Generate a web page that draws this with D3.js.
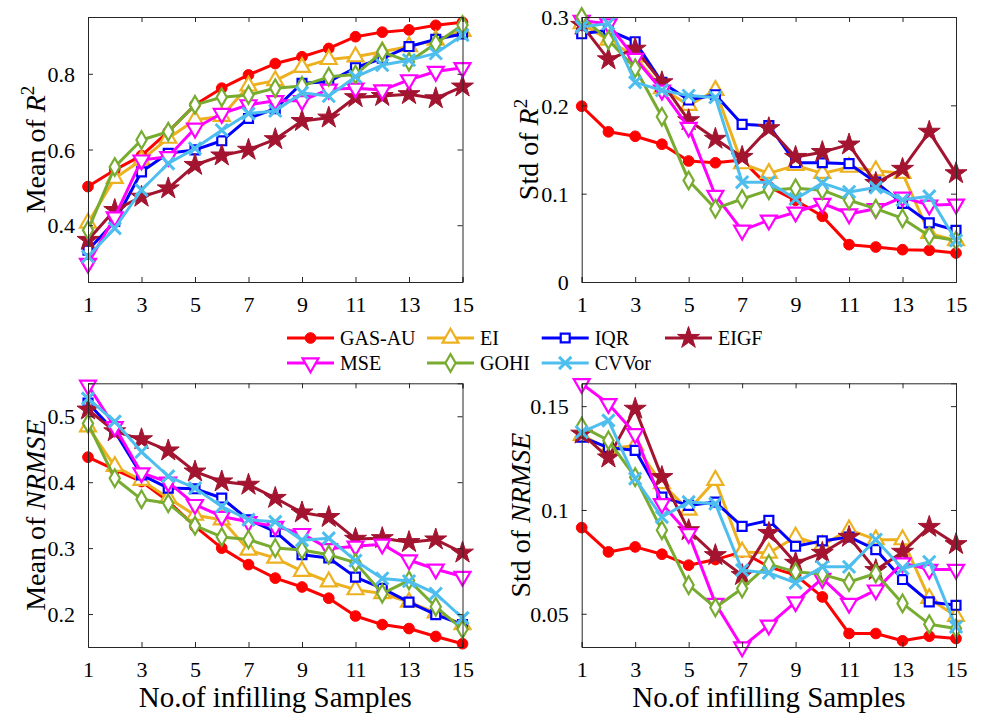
<!DOCTYPE html>
<html>
<head>
<meta charset="utf-8">
<script src="https://cdn.jsdelivr.net/npm/d3@7"></script>
<style>
  html, body { margin: 0; padding: 0; background: #fff; }
  svg, svg text { font-family: "Liberation Serif", "Times New Roman", Times, "DejaVu Serif", serif !important; }
</style>
</head>
<body>
<svg id="chart" width="982" height="720"></svg>
<script>
// ---------------- DATA ----------------
const samples = [1, 2, 3, 4, 5, 6, 7, 8, 9, 10, 11, 12, 13, 14, 15];
const xTickValues = [1, 3, 5, 7, 9, 11, 13, 15];
const seriesNames = ["GAS-AU", "EI", "IQR", "EIGF", "MSE", "GOHI", "CVVor"];
const seriesColors = ["#FF0000", "#EDB120", "#0000FF", "#A2142F", "#FF00FF", "#77AC30", "#4DBEEE"];

// Mean of R^2 (series order as seriesNames)
const meanR2 = [
  [0.502, 0.546, 0.584, 0.647, 0.718, 0.762, 0.797, 0.827, 0.845, 0.867, 0.898, 0.910, 0.916, 0.928, 0.936],
  [0.406, 0.524, 0.572, 0.630, 0.678, 0.688, 0.768, 0.782, 0.817, 0.838, 0.845, 0.858, 0.872, 0.889, 0.912],
  [0.334, 0.410, 0.541, 0.590, 0.599, 0.623, 0.682, 0.708, 0.775, 0.779, 0.816, 0.841, 0.872, 0.891, 0.905],
  [0.361, 0.440, 0.475, 0.497, 0.559, 0.584, 0.599, 0.627, 0.675, 0.684, 0.738, 0.741, 0.746, 0.735, 0.766],
  [0.299, 0.422, 0.572, 0.581, 0.656, 0.695, 0.718, 0.729, 0.729, 0.759, 0.762, 0.757, 0.784, 0.806, 0.816],
  [0.387, 0.554, 0.625, 0.647, 0.718, 0.738, 0.744, 0.762, 0.768, 0.792, 0.798, 0.858, 0.832, 0.880, 0.929],
  [0.317, 0.392, 0.493, 0.563, 0.603, 0.651, 0.695, 0.702, 0.750, 0.741, 0.792, 0.823, 0.836, 0.854, 0.902]
];
// Std of R^2
const stdR2 = [
  [0.199, 0.170, 0.165, 0.156, 0.137, 0.135, 0.138, 0.108, 0.0925, 0.0744, 0.0423, 0.0396, 0.0366, 0.0359, 0.0328],
  [0.2925, 0.274, 0.255, 0.219, 0.200, 0.217, 0.134, 0.123, 0.132, 0.123, 0.130, 0.126, 0.123, 0.055, 0.047],
  [0.281, 0.285, 0.272, 0.226, 0.206, 0.212, 0.1785, 0.177, 0.135, 0.135, 0.134, 0.113, 0.089, 0.067, 0.0585],
  [0.291, 0.252, 0.264, 0.226, 0.183, 0.162, 0.1415, 0.174, 0.1415, 0.147, 0.1555, 0.112, 0.128, 0.170, 0.123],
  [0.296, 0.292, 0.253, 0.217, 0.175, 0.098, 0.0585, 0.070, 0.079, 0.089, 0.077, 0.083, 0.096, 0.087, 0.088],
  [0.300, 0.274, 0.242, 0.187, 0.115, 0.083, 0.094, 0.104, 0.106, 0.104, 0.0925, 0.083, 0.072, 0.052, 0.047],
  [0.289, 0.2925, 0.226, 0.217, 0.211, 0.209, 0.113, 0.113, 0.094, 0.112, 0.102, 0.107, 0.093, 0.097, 0.047]
];
// Mean of NRMSE
const meanNRMSE = [
  [0.438, 0.419, 0.401, 0.371, 0.333, 0.300, 0.275, 0.2545, 0.241, 0.224, 0.197, 0.184, 0.178, 0.166, 0.155],
  [0.484, 0.424, 0.403, 0.376, 0.350, 0.343, 0.297, 0.285, 0.265, 0.249, 0.237, 0.231, 0.218, 0.202, 0.184],
  [0.520, 0.477, 0.411, 0.391, 0.390, 0.376, 0.343, 0.325, 0.290, 0.285, 0.256, 0.239, 0.218, 0.199, 0.184],
  [0.510, 0.477, 0.465, 0.448, 0.416, 0.401, 0.396, 0.376, 0.354, 0.347, 0.314, 0.315, 0.309, 0.313, 0.293],
  [0.547, 0.484, 0.414, 0.400, 0.366, 0.348, 0.340, 0.333, 0.322, 0.299, 0.303, 0.306, 0.282, 0.268, 0.257],
  [0.489, 0.406, 0.374, 0.368, 0.334, 0.317, 0.313, 0.300, 0.297, 0.290, 0.278, 0.231, 0.251, 0.211, 0.177],
  [0.527, 0.492, 0.446, 0.409, 0.391, 0.363, 0.343, 0.340, 0.312, 0.315, 0.281, 0.254, 0.250, 0.231, 0.194]
];
// Std of NRMSE
const stdNRMSE = [
  [0.0915, 0.0798, 0.0822, 0.0787, 0.0734, 0.0761, 0.0798, 0.0726, 0.0686, 0.0581, 0.0405, 0.0405, 0.0370, 0.0392, 0.0381],
  [0.1359, 0.1295, 0.1311, 0.1127, 0.1000, 0.1143, 0.0798, 0.0793, 0.0870, 0.0830, 0.0905, 0.0857, 0.0857, 0.0574, 0.0488],
  [0.1351, 0.1300, 0.1287, 0.1062, 0.1022, 0.1038, 0.0921, 0.0950, 0.0825, 0.0851, 0.0870, 0.0809, 0.0665, 0.0557, 0.0541],
  [0.1367, 0.1252, 0.1487, 0.1158, 0.0902, 0.0782, 0.0686, 0.0889, 0.0745, 0.0793, 0.0870, 0.0710, 0.0798, 0.0918, 0.0835],
  [0.1608, 0.1512, 0.1367, 0.1030, 0.0886, 0.0550, 0.0340, 0.0445, 0.0557, 0.0670, 0.0550, 0.0614, 0.0745, 0.0713, 0.0713],
  [0.1402, 0.1335, 0.1158, 0.0902, 0.0638, 0.0530, 0.0622, 0.0739, 0.0702, 0.0690, 0.0653, 0.0694, 0.0550, 0.0450, 0.0429],
  [0.1375, 0.1431, 0.1151, 0.0966, 0.1038, 0.1030, 0.0710, 0.0697, 0.0649, 0.0726, 0.0726, 0.0857, 0.0718, 0.0750, 0.0437]
];

const yTicksMeanR2 = [0.4, 0.6, 0.8];
const yTicksStdR2 = [0, 0.1, 0.2, 0.3];
const yTicksMeanNRMSE = [0.2, 0.3, 0.4, 0.5];
const yTicksStdNRMSE = [0.05, 0.1, 0.15];

// ---------------- DRAWING ----------------
const FONT = '"Liberation Serif", "Times New Roman", Times, "DejaVu Serif", serif';
const svg = d3.select("#chart");
const AXIS_COLOR = "#262626";

const markers = [
  { type: d3.symbolCircle, size: 90, filled: true, rot: 0 },
  { type: d3.symbolTriangle, size: 110, filled: false, rot: 0 },
  { type: d3.symbolSquare, size: 80, filled: false, rot: 0 },
  { type: d3.symbolStar, size: 150, filled: true, rot: 0 },
  { type: d3.symbolTriangle, size: 110, filled: false, rot: 180 },
  { type: d3.symbolDiamond, size: 90, filled: false, rot: 0 },
  { type: d3.symbolX, size: 100, filled: false, rot: 0 }
];

function drawMarker(g, i, x, y) {
  const m = markers[i];
  const p = g.append("path")
    .attr("d", d3.symbol().type(m.type).size(m.size)())
    .attr("transform", `translate(${x},${y}) rotate(${m.rot})`)
    .attr("stroke", seriesColors[i])
    .attr("stroke-width", m.type === d3.symbolX ? 3 : 2.2)
    .attr("stroke-linejoin", "miter")
    .attr("fill", m.filled ? seriesColors[i] : (m.type === d3.symbolX ? "none" : "#fff"));
  if (m.filled) p.attr("stroke-width", 1);
}

function drawPanel(cfg) {
  const { left, right, top, bottom, yDomain, yTicks, data, yLabel, yLabelX, tickFmt } = cfg;
  const x = d3.scaleLinear().domain([1, 15]).range([left, right]);
  const y = d3.scaleLinear().domain(yDomain).range([bottom, top]);
  const g = svg.append("g");

  data.forEach((vals, i) => {
    const line = d3.line().x((d, k) => x(samples[k])).y(d => y(d));
    g.append("path")
      .attr("d", line(vals))
      .attr("fill", "none")
      .attr("stroke", seriesColors[i])
      .attr("stroke-width", 3)
      .attr("stroke-linejoin", "round");
    vals.forEach((v, k) => drawMarker(g, i, x(samples[k]), y(v)));
  });

  const tickLen = -5;
  const axB = d3.axisBottom(x).tickValues(xTickValues).tickSize(tickLen).tickPadding(14).tickFormat(d3.format("d"));
  const axT = d3.axisTop(x).tickValues(xTickValues).tickSize(tickLen).tickFormat("");
  const axL = d3.axisLeft(y).tickValues(yTicks).tickSize(tickLen).tickPadding(13).tickFormat(tickFmt);
  const axR = d3.axisRight(y).tickValues(yTicks).tickSize(tickLen).tickFormat("");

  const gb = g.append("g").attr("transform", `translate(0,${bottom})`).call(axB);
  const gt = g.append("g").attr("transform", `translate(0,${top})`).call(axT);
  const gl = g.append("g").attr("transform", `translate(${left},0)`).call(axL);
  const gr = g.append("g").attr("transform", `translate(${right},0)`).call(axR);
  [gb, gt, gl, gr].forEach(a => {
    a.attr("font-family", FONT);
    a.select(".domain").attr("stroke", AXIS_COLOR).attr("stroke-width", 1);
    a.selectAll(".tick line").attr("stroke", AXIS_COLOR);
    a.selectAll("text").attr("fill", "#000").attr("font-family", FONT).attr("font-size", 22);
  });
  gb.selectAll(".tick text").attr("dy", "0.71em");
  gl.selectAll(".tick text").attr("dy", "0.35em");

  const lbl = g.append("text")
    .attr("transform", `translate(${yLabelX},${(top + bottom) / 2}) rotate(-90)`)
    .attr("text-anchor", "middle")
    .attr("font-family", FONT)
    .attr("font-size", 28)
    .attr("fill", "#000");
  yLabel(lbl);
  return { x, y };
}

const fmtR = d => d === 0 ? "0" : d3.format(".1f")(d);
const fmt2 = d => String(d);

drawPanel({
  left: 88, right: 462.5, top: 17, bottom: 282, yDomain: [0.25, 0.95], yTicks: yTicksMeanR2,
  data: meanR2, yLabelX: 45, tickFmt: fmtR,
  yLabel: t => { t.append("tspan").text("Mean of "); t.append("tspan").attr("font-style", "italic").text("R");
                 t.append("tspan").attr("font-size", 19).attr("dy", -11).text("2"); }
});
drawPanel({
  left: 581.7, right: 956, top: 17, bottom: 282, yDomain: [0, 0.3], yTicks: yTicksStdR2,
  data: stdR2, yLabelX: 538, tickFmt: fmtR,
  yLabel: t => { t.append("tspan").text("Std of "); t.append("tspan").attr("font-style", "italic").text("R");
                 t.append("tspan").attr("font-size", 19).attr("dy", -11).text("2"); }
});
drawPanel({
  left: 88, right: 462.5, top: 383.3, bottom: 647, yDomain: [0.15, 0.55], yTicks: yTicksMeanNRMSE,
  data: meanNRMSE, yLabelX: 45, tickFmt: fmtR,
  yLabel: t => { t.append("tspan").text("Mean of "); t.append("tspan").attr("font-style", "italic").text("NRMSE"); }
});
drawPanel({
  left: 581.7, right: 956, top: 383.3, bottom: 647, yDomain: [0.034, 0.161], yTicks: yTicksStdNRMSE,
  data: stdNRMSE, yLabelX: 530, tickFmt: fmt2,
  yLabel: t => { t.append("tspan").text("Std of "); t.append("tspan").attr("font-style", "italic").text("NRMSE"); }
});

[[275.3, 707], [768.9, 707]].forEach(([cx, cy]) => {
  svg.append("text").attr("x", cx).attr("y", cy).attr("text-anchor", "middle")
    .attr("font-family", FONT)
    .attr("font-size", 29).attr("fill", "#000").text("No.of infilling Samples");
});

const legendPos = [
  [287, 338], [427, 338], [541.7, 338], [665, 338],
  [287, 363], [427, 363], [541.7, 363]
];
const legG = svg.append("g");
seriesNames.forEach((name, i) => {
  const [lx, ly] = legendPos[i];
  legG.append("line").attr("x1", lx).attr("x2", lx + 47).attr("y1", ly).attr("y2", ly)
    .attr("stroke", seriesColors[i]).attr("stroke-width", 3);
  drawMarker(legG, i, lx + 23.5, ly);
  legG.append("text").attr("x", lx + 53).attr("y", ly).attr("dy", "0.35em")
    .attr("font-family", FONT)
    .attr("font-size", 20).attr("fill", "#000").text(name);
});
</script>
</body>
</html>
